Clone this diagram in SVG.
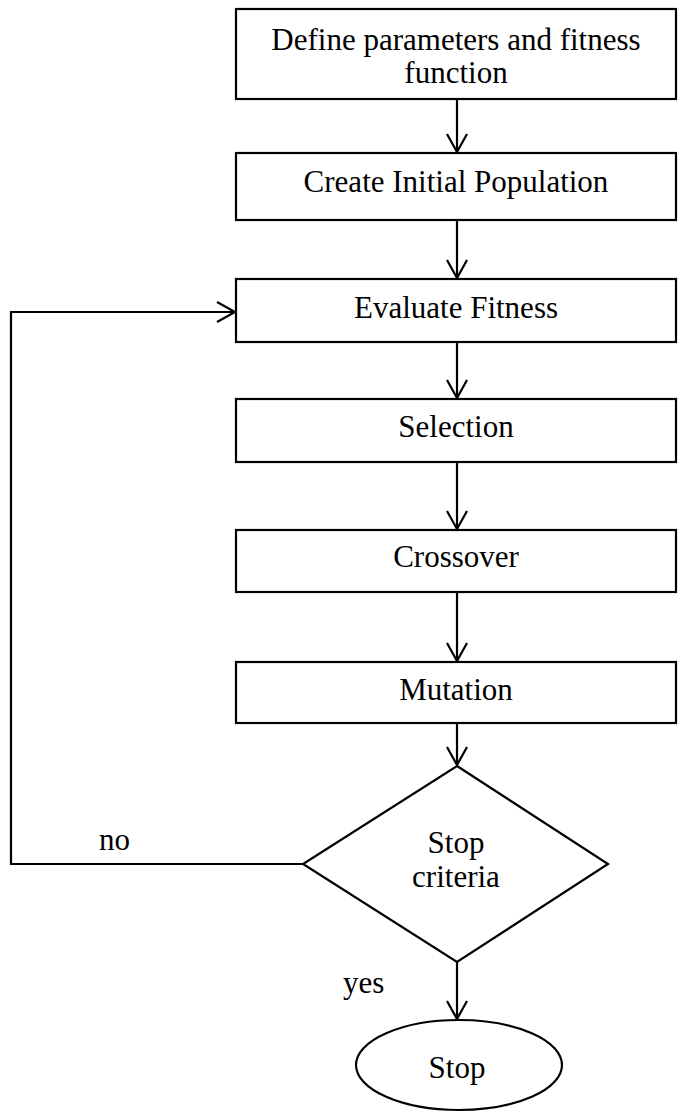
<svg xmlns="http://www.w3.org/2000/svg" width="679" height="1113" viewBox="0 0 679 1113">
  <style>
    .box { fill: #fff; stroke: #000; stroke-width: 2.2; }
    .lbl { font-family: "Liberation Serif", "Times New Roman", serif; font-size: 31px; fill: #000; text-anchor: middle; }
    .side { font-family: "Liberation Serif", "Times New Roman", serif; font-size: 31px; fill: #000; }
    .wire { fill: none; stroke: #000; stroke-width: 2.2; }
  </style>
  <defs>
    <marker id="vee" markerUnits="userSpaceOnUse" markerWidth="24" markerHeight="24" viewBox="-20 -12 24 24" refX="0" refY="0" orient="auto">
      <path d="M-18,-10 L0,0 L-18,10" fill="none" stroke="#000" stroke-width="2.2"/>
    </marker>
  </defs>
  <rect width="679" height="1113" fill="#fff"/>

  <g id="connectors">
    <line class="wire" x1="457" y1="99" x2="457" y2="152" marker-end="url(#vee)"/>
    <line class="wire" x1="457" y1="220" x2="457" y2="278" marker-end="url(#vee)"/>
    <line class="wire" x1="457" y1="342" x2="457" y2="398" marker-end="url(#vee)"/>
    <line class="wire" x1="457" y1="462" x2="457" y2="529" marker-end="url(#vee)"/>
    <line class="wire" x1="457" y1="592" x2="457" y2="661" marker-end="url(#vee)"/>
    <line class="wire" x1="457" y1="723" x2="457" y2="765" marker-end="url(#vee)"/>
    <line class="wire" x1="457" y1="962" x2="457" y2="1019" marker-end="url(#vee)"/>
    <polyline class="wire" points="303,864 11,864 11,312 235,312" marker-end="url(#vee)"/>
  </g>

  <g id="define">
    <rect class="box" x="236" y="9" width="440" height="90"/>
    <text class="lbl" x="456" y="50">Define parameters and fitness</text>
    <text class="lbl" x="456" y="83">function</text>
  </g>
  <g id="create">
    <rect class="box" x="236" y="153" width="440" height="67"/>
    <text class="lbl" x="456" y="192">Create Initial Population</text>
  </g>
  <g id="evaluate">
    <rect class="box" x="236" y="279" width="440" height="63"/>
    <text class="lbl" x="456" y="318">Evaluate Fitness</text>
  </g>
  <g id="selection">
    <rect class="box" x="236" y="399" width="440" height="63"/>
    <text class="lbl" x="456" y="437">Selection</text>
  </g>
  <g id="crossover">
    <rect class="box" x="236" y="530" width="440" height="62"/>
    <text class="lbl" x="456" y="567">Crossover</text>
  </g>
  <g id="mutation">
    <rect class="box" x="236" y="662" width="440" height="61"/>
    <text class="lbl" x="456" y="700">Mutation</text>
  </g>
  <g id="criteria">
    <polygon class="box" points="457,766 608,864 457,962 303,864"/>
    <text class="lbl" x="456" y="853">Stop</text>
    <text class="lbl" x="456" y="887">criteria</text>
  </g>
  <g id="stop">
    <ellipse class="box" cx="459" cy="1065" rx="103" ry="45"/>
    <text class="lbl" x="457" y="1078">Stop</text>
  </g>

  <text class="side" x="99" y="850">no</text>
  <text class="side" x="343" y="993">yes</text>
</svg>
